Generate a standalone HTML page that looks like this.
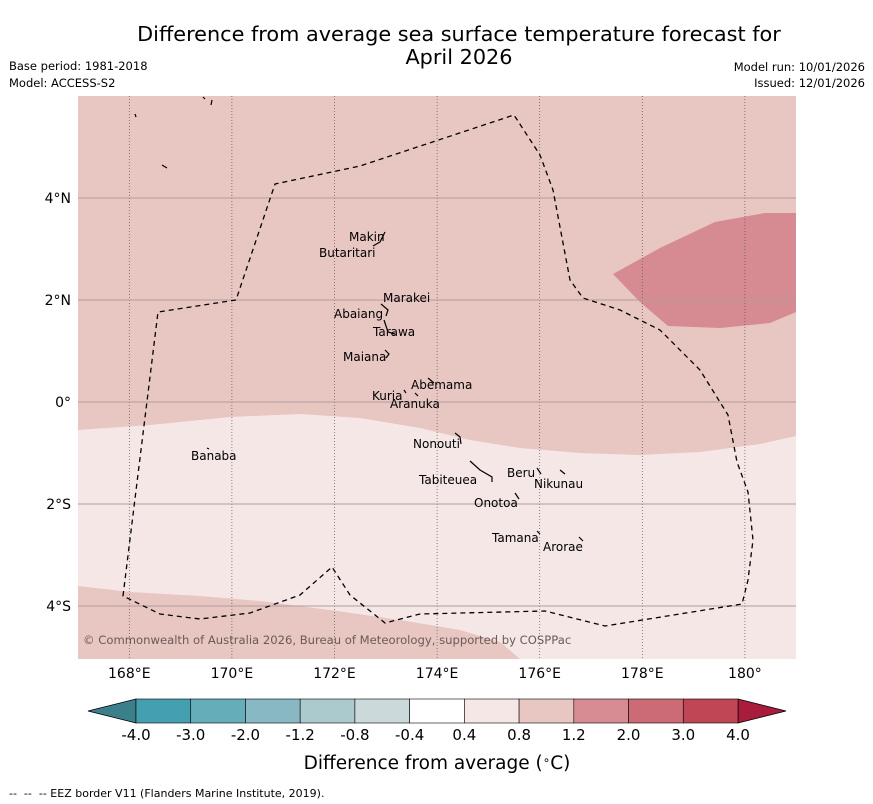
<!DOCTYPE html>
<html><head><meta charset="utf-8"><style>
body{margin:0;background:#fff;}
svg{display:block;font-family:"DejaVu Sans","Liberation Sans",sans-serif;}
</style></head><body>
<svg id="chart" width="873" height="804" viewBox="0 0 873 804">
<text x="459" y="41" font-size="20.8" text-anchor="middle">Difference from average sea surface temperature forecast for</text>
<text x="459" y="64" font-size="20.8" text-anchor="middle">April 2026</text>
<text x="9" y="70" font-size="11.5">Base period: 1981-2018</text>
<text x="9" y="87" font-size="11.5">Model: ACCESS-S2</text>
<text x="865" y="71" font-size="11.5" text-anchor="end">Model run: 10/01/2026</text>
<text x="865" y="87" font-size="11.5" text-anchor="end">Issued: 12/01/2026</text>
<defs><clipPath id="mapclip"><rect x="78" y="96" width="718" height="563"/></clipPath></defs>
<g clip-path="url(#mapclip)">
<rect x="78" y="96" width="718" height="563" fill="#e8c6c2"/>
<path d="M78,430 L150,425 L230,417 L300,414 L360,418 L420,428 L470,440 L520,448 L580,453 L640,455 L700,452 L760,444 L796,436 L796,659 L78,659 Z" fill="#f5e7e6"/>
<path d="M78,586 L130,592 L200,596 L260,601 L330,610 L400,620 L460,630 L500,642 L520,659 L78,659 Z" fill="#e8c6c2"/>
<path d="M613,274 L660,248 L715,222 L765,213 L796,213 L796,312 L770,323 L720,328 L668,326 L640,302 Z" fill="#d68b92"/>
<g id="grid"></g>
<path d="M123,596 L158,312 L236,300 L275,184 L360,166 L514,115 L540,155 L553,190 L570,280 L583,298 L620,310 L660,330 L700,370 L728,415 L737,462 L748,492 L753,540 L748,580 L742,604 L605,626 L545,611 L420,614 L385,623 L350,595 L332,567 L300,595 L250,613 L200,619 L160,614 Z" fill="none" stroke="#000" stroke-width="1.3" stroke-dasharray="5,4"/>
<g font-size="12" fill="#000">
<text x="349" y="241">Makin</text><text x="319" y="257">Butaritari</text>
<text x="383" y="302">Marakei</text><text x="334" y="318">Abaiang</text>
<text x="373" y="336">Tarawa</text><text x="343" y="361">Maiana</text>
<text x="411" y="389">Abemama</text><text x="372" y="400">Kuria</text>
<text x="390" y="408">Aranuka</text><text x="413" y="448">Nonouti</text>
<text x="191" y="460">Banaba</text><text x="507" y="477">Beru</text>
<text x="534" y="488">Nikunau</text><text x="419" y="484">Tabiteuea</text>
<text x="474" y="507">Onotoa</text><text x="492" y="542">Tamana</text>
<text x="543" y="551">Arorae</text>
</g>
<g stroke="#000" stroke-width="1.2" fill="none">
<path d="M373,246 L380,242 L385,232"/><path d="M381,304 L388,310 L386,316"/><path d="M384,320 L388,332 L395,334"/>
<path d="M385,350 L389,354 L386,358"/><path d="M428,378 L434,383"/><path d="M404,390 L406,393"/><path d="M415,393 L418,396"/>
<path d="M455,433 L460,437 L461,444"/><path d="M470,461 L480,470 L492,477 L492,482"/><path d="M537,468 L541,474"/>
<path d="M560,470 L565,474"/><path d="M515,493 L519,499"/><path d="M537,531 L540,534"/><path d="M579,537 L583,541"/>
<path d="M207,448 L209,449"/><path d="M135,114 L136,117"/><path d="M162,165 L167,168"/><path d="M203,97 L205,99 M212,100 L211,105"/>
</g>
<text x="83" y="644" font-size="11.6" fill="#6b5a58">© Commonwealth of Australia 2026, Bureau of Meteorology, supported by COSPPac</text>
</g>
<g id="axislabels" font-size="14"></g>
<g id="colorbar"></g>
<text x="437" y="769" font-size="18.5" text-anchor="middle">Difference from average (<tspan dy="-5" font-size="12">∘</tspan><tspan dy="5">C)</tspan></text>
<text x="9" y="797" font-size="11" style="white-space:pre">--  --  -- EEZ border V11 (Flanders Marine Institute, 2019).</text>
</svg>
<script>
const lonTicks=[168,170,172,174,176,178,180];
const lonLabels=["168°E","170°E","172°E","174°E","176°E","178°E","180°"];
const latTicks=[4,2,0,-2,-4];
const latLabels=["4°N","2°N","0°","2°S","4°S"];
const levelLabels=["-4.0","-3.0","-2.0","-1.2","-0.8","-0.4","0.4","0.8","1.2","2.0","3.0","4.0"];
const levelColors=["#449fb0","#66adba","#88b8c3","#aacacd","#ccd9da","#ffffff","#f5e7e6","#e8c6c2","#d78c93","#cc6a75","#c04555"];
const NS="http://www.w3.org/2000/svg";
const x=lon=>78+(lon-167)*51.3;
const y=lat=>96+(6-lat)*51.0;
function mk(t,a,p){const e=document.createElementNS(NS,t);for(const k in a)e.setAttribute(k,a[k]);p.appendChild(e);return e;}
const grid=document.getElementById('grid'),al=document.getElementById('axislabels');
lonTicks.forEach((v,i)=>{
 const l=mk('line',{x1:x(v),x2:x(v),y1:96,y2:659,stroke:'#555','stroke-width':0.7,'stroke-dasharray':'1,2'},grid);
 
 
 const t=mk('text',{x:x(v),y:678,'text-anchor':'middle'},al);t.textContent=lonLabels[i];
 
 
});
latTicks.forEach((v,i)=>{
 const l=mk('line',{x1:78,x2:796,y1:y(v),y2:y(v),stroke:'#b09c9a','stroke-width':1},grid);
 
 
 const t=mk('text',{x:71,y:y(v)+5,'text-anchor':'end'},al);t.textContent=latLabels[i];
 
 
});
const cb=document.getElementById('colorbar');
const x0=136,x1=738,n=levelColors.length,w=(x1-x0)/n,cy=699,ch=24;
let tri=mk('polygon',{points:`${x0},${cy} ${x0},${cy+ch} 88,${cy+ch/2}`,fill:'#3b7f8b',stroke:'#000','stroke-width':0.8},cb);


tri=mk('polygon',{points:`${x1},${cy} ${x1},${cy+ch} 786,${cy+ch/2}`,fill:'#a81c3c',stroke:'#000','stroke-width':0.8},cb);


levelColors.forEach((c,i)=>{
 const r=mk('rect',{x:x0+i*w,y:cy,width:w,height:ch,fill:c,stroke:'#000','stroke-width':0.6},cb);
 
 
});
levelLabels.forEach((s,i)=>{
 const t=mk('text',{x:x0+i*w,y:740,'font-size':15,'text-anchor':'middle'},cb);t.textContent=s;
 
 
});
</script>
</body></html>
